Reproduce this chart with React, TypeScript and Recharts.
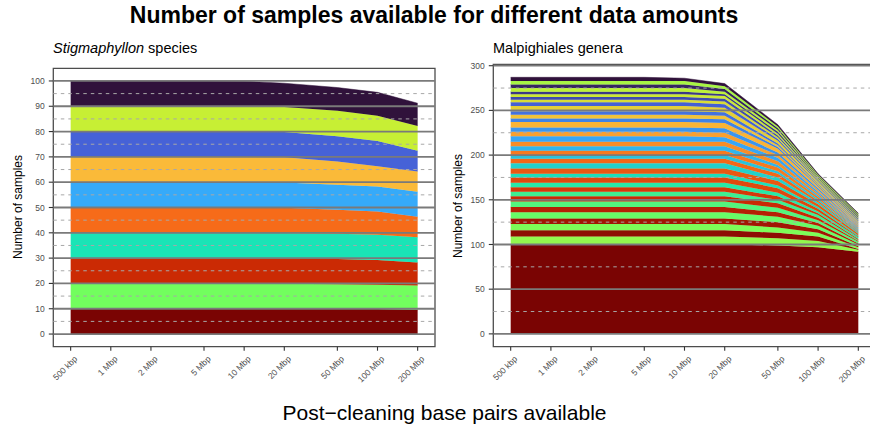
import React from 'react';
import { AreaChart, Area, XAxis, YAxis, ReferenceLine, ReferenceArea } from 'recharts';

const FONT = '"Liberation Sans", Arial, Helvetica, sans-serif';

// base pairs available after cleaning (x positions, log scale)
const bpValues = [5e5, 1e6, 2e6, 5e6, 1e7, 2e7, 5e7, 1e8, 2e8];
const bpLabels = ['500 kbp', '1 Mbp', '2 Mbp', '5 Mbp', '10 Mbp', '20 Mbp', '50 Mbp', '100 Mbp', '200 Mbp'];

// Stigmaphyllon: samples per species, stacked bottom -> top
const speciesCounts = [
  [10, 10, 10, 10, 10, 9.9, 9.9, 9.9, 9.6],
  [10, 10, 10, 10, 10, 10, 9.8, 9.6, 9.6],
  [10, 10, 10, 10, 10, 10, 10, 9.8, 9.1],
  [10, 10, 10, 10, 10, 10, 9.9, 9.9, 9.9],
  [10, 10, 10, 10, 10, 10, 9.5, 9.2, 8.1],
  [10, 10, 10, 10, 10, 10, 9.9, 9.9, 9.9],
  [10, 10, 10, 10, 10, 10, 9.2, 8.0, 8.0],
  [10, 10, 10, 10, 10, 9.9, 10, 10, 8.2],
  [10, 10, 10, 10, 10, 9.9, 10, 10, 9.8],
  [10, 10, 10, 10, 9.9, 9.4, 9.2, 9.2, 9.0],
];

// Malpighiales: samples per genus, stacked bottom -> top
const generaCounts = [
  [100, 100, 100, 100, 100, 100, 99, 97, 92],
  [9, 9, 9, 9, 9, 9, 8, 7, 2],
  [7, 7, 7, 7, 7, 7, 6, 5, 1],
  [7, 7, 7, 7, 7, 7, 6, 4, 2],
  [6, 6, 6, 6, 6, 6, 6, 4, 1],
  [7, 7, 7, 7, 7, 7, 6, 4, 2],
  [6, 6, 6, 6, 6, 6, 5, 3, 1],
  [6, 6, 6, 6, 6, 6, 5, 3, 2],
  [6, 6, 6, 6, 6, 6, 5, 3, 1],
  [5, 5, 5, 5, 5, 5, 4, 3, 1],
  [5, 5, 5, 5, 5, 5, 4, 2, 1],
  [5, 5, 5, 5, 5, 5, 4, 2, 2],
  [6, 6, 6, 6, 6, 6, 5, 3, 1],
  [4, 4, 4, 4, 4, 4, 3, 2, 1],
  [6, 6, 6, 6, 6, 6, 5, 3, 2],
  [6, 6, 6, 6, 6, 6, 4, 2, 1],
  [5, 5, 5, 5, 5, 5, 4, 2, 1],
  [4, 4, 4, 4, 4, 4, 3, 2, 1],
  [5, 5, 5, 5, 5, 5, 4, 2, 1],
  [5, 5, 5, 5, 5, 5, 3, 2, 1],
  [5, 5, 5, 5, 5, 5, 4, 2, 1],
  [6, 6, 6, 6, 6, 5, 4, 2, 1],
  [5, 5, 5, 5, 5, 5, 3, 2, 1],
  [5, 5, 5, 5, 5, 5, 3, 2, 1],
  [6, 6, 6, 6, 6, 6, 4, 2, 1],
  [4, 4, 4, 4, 4, 4, 2, 1, 1],
  [4, 4, 4, 4, 4, 4, 2, 1, 1],
  [4, 4, 4, 4, 4, 4, 2, 1, 1],
  [6, 6, 6, 6, 6, 5, 3, 2, 1],
  [4, 4, 4, 4, 4, 4, 2, 1, 1],
  [3, 3, 3, 3, 3, 3, 2, 1, 1],
  [3, 3, 3, 3, 3, 3, 2, 1, 1],
  [3, 3, 3, 3, 3, 3, 2, 1, 1],
  [3, 3, 3, 3, 3, 2, 2, 1, 1],
  [4, 4, 4, 4, 4, 3, 2, 1, 1],
  [4, 4, 4, 4, 4, 3, 2, 1, 1],
  [4, 4, 4, 4, 4, 3, 2, 1, 1],
  [4, 4, 4, 4, 3, 3, 2, 1, 1],
];

const speciesTicks = [0, 10, 20, 30, 40, 50, 60, 70, 80, 90, 100];
const speciesMinor = [5, 15, 25, 35, 45, 55, 65, 75, 85, 95];
const generaTicks = [0, 50, 100, 150, 200, 250, 300];
const generaMinor = [25, 75, 125, 175, 225, 275];

// turbo(10) stops
const turboStops = ['#30123B', '#4662D7', '#36AAF9', '#1AE4B6', '#72FE5E', '#C7EF34', '#FABA39', '#F66B19', '#CB2A04', '#7A0403'];

function turbo(t: number) {
  const pos = Math.max(0, Math.min(1, t)) * (turboStops.length - 1);
  const i = Math.min(Math.floor(pos), turboStops.length - 2);
  const f = pos - i;
  const a = turboStops[i], b = turboStops[i + 1];
  const ch = (s: string, o: number) => parseInt(s.slice(o, o + 2), 16);
  const mix = (o: number) => Math.round(ch(a, o) + (ch(b, o) - ch(a, o)) * f);
  return `rgb(${mix(1)},${mix(3)},${mix(5)})`;
}

// reversed turbo, first and second half interleaved
function palette(n: number) {
  const half = Math.ceil(n / 2);
  return Array.from({ length: n }, (_, k) => {
    const idx = k % 2 === 0 ? k / 2 : half + (k - 1) / 2;
    return turbo(1 - idx / (n - 1));
  });
}

const toRows = (counts: number[][]) =>
  bpValues.map((bp, i) => {
    const row: Record<string, number> = { bp };
    counts.forEach((c, k) => {
      row[`g${k}`] = c[i];
    });
    return row;
  });

// log10 domain with 5% padding like ggplot
const xDomain = [3.705e5, 2.699e8];

const labelFor = (v: number) => {
  let best = 0;
  bpValues.forEach((b, i) => {
    if (Math.abs(Math.log(b / v)) < Math.abs(Math.log(bpValues[best] / v))) best = i;
  });
  return bpLabels[best];
};

const BpTick = (props: any) => {
  const { x, y, payload } = props;
  const ax = x + 3;
  const ay = y + 2.5;
  return (
    <text
      x={ax}
      y={ay}
      dy="0.71em"
      transform={`rotate(-45 ${ax} ${ay})`}
      textAnchor="end"
      fontSize={8.5}
      fill="#4d4d4d"
      fontFamily={FONT}
    >
      {labelFor(Number(payload.value))}
    </text>
  );
};

interface PanelProps {
  counts: number[][];
  yDomain: number[];
  ticks: number[];
  minor: number[];
  top: number;
  right: number;
}

function Panel({ counts, yDomain, ticks, minor, top, right }: PanelProps) {
  const data = toRows(counts);
  const colors = palette(counts.length);
  return (
    <AreaChart width={440} height={427} data={data} margin={{ top, right, bottom: 50.3, left: 0 }}>
      <XAxis
        dataKey="bp"
        type="number"
        scale="log"
        domain={xDomain}
        allowDataOverflow
        ticks={bpValues}
        interval={0}
        tick={BpTick}
        tickSize={4}
        tickLine={{ stroke: '#333', strokeWidth: 1.1 }}
        axisLine={false}
        height={30}
      />
      <YAxis
        type="number"
        domain={yDomain}
        allowDataOverflow
        ticks={ticks}
        interval={0}
        width={53.3}
        tickSize={4.5}
        tickMargin={4}
        tickLine={{ stroke: '#333', strokeWidth: 1.1 }}
        axisLine={false}
        tick={{ fontSize: 8.5, fill: '#4d4d4d', fontFamily: FONT }}
      />
      {counts.map((_, k) => (
        <Area
          key={k}
          dataKey={`g${k}`}
          stackId="all"
          type="linear"
          fill={colors[k]}
          fillOpacity={1}
          stroke={colors[k]}
          strokeWidth={0.5}
          dot={false}
          activeDot={false}
          isAnimationActive={false}
        />
      ))}
      {minor.map((v) => (
        <ReferenceLine key={`m${v}`} y={v} stroke="#a8a8a8" strokeWidth={1} strokeDasharray="3.5 4" />
      ))}
      {ticks.map((v) => (
        <ReferenceLine key={`M${v}`} y={v} stroke="#7a7a7a" strokeWidth={1.8} />
      ))}
      <ReferenceArea
        x1={xDomain[0]}
        x2={xDomain[1]}
        y1={yDomain[0]}
        y2={yDomain[1]}
        fill="none"
        stroke="#4d4d4d"
        strokeWidth={1.3}
        ifOverflow="visible"
      />
    </AreaChart>
  );
}

export default function App() {
  return (
    <div
      style={{
        position: 'absolute',
        left: 0,
        top: 0,
        width: 870,
        height: 427,
        overflow: 'hidden',
        background: '#fff',
      }}
    >
      <div style={{ position: 'absolute', left: 0, top: 0 }}>
        <Panel counts={speciesCounts} yDomain={[-5, 105]} ticks={speciesTicks} minor={speciesMinor} top={68.3} right={5} />
      </div>
      <div style={{ position: 'absolute', left: 440, top: 0 }}>
        <Panel counts={generaCounts} yDomain={[-14.35, 301.35]} ticks={generaTicks} minor={generaMinor} top={64.5} right={4.3} />
      </div>
      <svg width={870} height={427} style={{ position: 'absolute', left: 0, top: 0, pointerEvents: 'none' }} fontFamily={FONT}>
        <text x={434} y={23} textAnchor="middle" fontSize={23} fontWeight="bold" fill="#000">
          Number of samples available for different data amounts
        </text>
        <text x={53} y={52.5} fontSize={14.5} fill="#000">
          <tspan fontStyle="italic">Stigmaphyllon</tspan> species
        </text>
        <text x={493} y={52.5} fontSize={14.5} fill="#000">
          Malpighiales genera
        </text>
        <text x={22} y={207} transform="rotate(-90 22 207)" textAnchor="middle" fontSize={12} fill="#000">
          Number of samples
        </text>
        <text x={462} y={206} transform="rotate(-90 462 206)" textAnchor="middle" fontSize={12} fill="#000">
          Number of samples
        </text>
        <text x={444.5} y={419.5} textAnchor="middle" fontSize={21} fill="#000">
          Post−cleaning base pairs available
        </text>
      </svg>
    </div>
  );
}
